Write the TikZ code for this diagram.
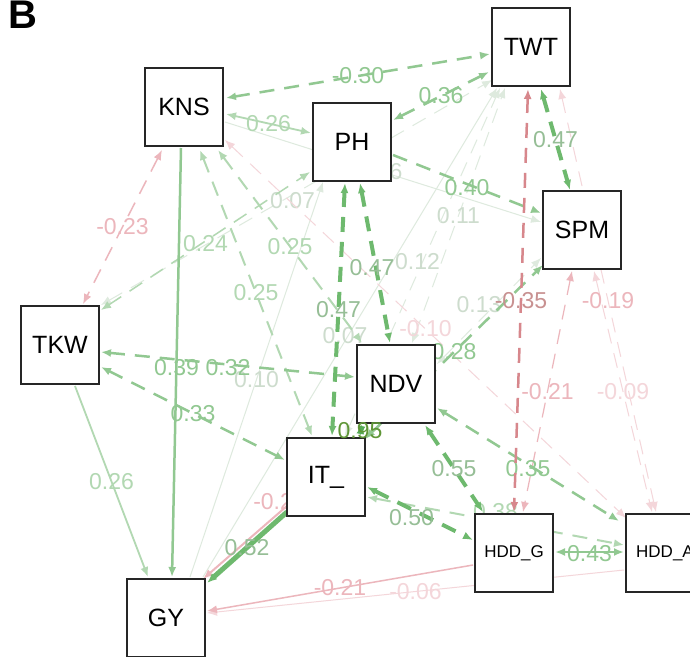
\documentclass[tikz,border=0pt]{standalone}
\usepackage{fontspec}
\setmainfont{Liberation Sans}
\usetikzlibrary{arrows.meta,calc}
\definecolor{gA}{RGB}{85,170,85}
\definecolor{gB}{RGB}{110,185,110}
\definecolor{gC}{RGB}{145,200,145}
\definecolor{gD}{RGB}{178,216,178}
\definecolor{gE}{RGB}{222,234,222}
\definecolor{gL}{RGB}{150,190,150}
\definecolor{gF}{RGB}{205,220,205}
\definecolor{rA}{RGB}{215,135,140}
\definecolor{rB}{RGB}{236,182,188}
\definecolor{rC}{RGB}{244,214,218}
\definecolor{rL}{RGB}{200,145,145}
\definecolor{oL}{RGB}{95,150,55}
\pgfdeclarelayer{edges}
\pgfsetlayers{edges,main}
\begin{document}
\begin{tikzpicture}[x=1pt,y=-1pt,
  >={Latex[length=10pt,width=8pt]},
  box/.style={draw=black!85,line width=1.5pt,fill=white,minimum size=78pt,inner sep=0pt,font=\fontsize{25}{25}\selectfont},
  sbox/.style={box,font=\fontsize{17}{17}\selectfont},
  lab/.style={font=\fontsize{23}{23}\selectfont,inner sep=0pt},
  dsh/.style={dash pattern=on 15pt off 10pt},
  cov/.style={<->},
  reg/.style={->},
  wA/.style={line width=5pt},
  wB/.style={line width=4pt},
  wC/.style={line width=2.5pt},
  wD/.style={line width=1.8pt},
  wE/.style={line width=1pt}]
\clip (0,0) rectangle (690,656);
% boxes
\node[box] (KNS) at (184,107) {KNS};
\node[box] (TWT) at (531,47) {TWT};
\node[box] (PH) at (352,142) {PH};
\node[box] (SPM) at (582,230) {SPM};
\node[box] (TKW) at (60,345) {TKW};
\node[box] (NDV) at (396,384) {NDV};
\node[box] (IT) at (326,477) {IT\_};
\node[sbox] (HDDG) at (514,553) {HDD\_G};
\node[sbox] (HDDA) at (665,553) {HDD\_A};
\node[box] (GY) at (166,618) {GY};
\node[font=\bfseries\fontsize{40}{40}\selectfont,inner sep=0pt] (B) at (23,15) {B};
\begin{pgfonlayer}{edges}
\fill[white] (0,0) rectangle (690,656);
% faint edges
\draw[cov,dsh,wE,gE] ($(TKW)+(41,-40)$) -- node[lab,text=gF,pos=0.49,yshift=-6pt]{0.07} ($(TWT)+(-39,33)$);
\draw[reg,wE,gE] ($(GY)+(24,-41)$) -- node[lab,text=gF]{0.10} ($(PH)+(-29,40)$);
\draw[reg,wE,gE] ($(GY)+(37,-41)$) -- node[lab,text=gF,xshift=-5pt,yshift=-3pt]{0.07} ($(TWT)+(-34,41)$);
\draw[cov,dsh,wE,gE] ($(NDV)+(16,-41)$) -- node[lab,text=gF]{0.11} ($(TWT)+(-26,41)$);
\draw[cov,dsh,wE,gE] ($(IT)+(19,-41)$) -- node[lab,text=gF,xshift=-5pt]{0.12} ($(TWT)+(-31,41)$);
\draw[reg,wE,gE] ($(KNS)+(41,15)$) -- node[lab,text=gF,xshift=-3pt]{0.16} ($(SPM)+(-41,-8)$);
\draw[cov,dsh,wE,rC] ($(KNS)+(41,33)$) -- node[lab,text=rC]{-0.10} ($(HDDA)+(-39,-35)$);
\draw[cov,dsh,wE,gE] ($(NDV)+(41,-20)$) -- node[lab,text=gF,xshift=-10pt,yshift=6pt]{0.13} ($(SPM)+(-41,28)$);
\draw[reg,wE,rC] ($(HDDA)+(-41,17)$) -- node[lab,text=rC]{-0.06} ($(GY)+(41,-5)$);
\draw[cov,dsh,wE,rC] ($(SPM)+(12,41)$) -- node[lab,text=rC]{-0.09} ($(HDDA)+(-13,-41)$);
\draw[cov,dsh,wE,rC] ($(TWT)+(29,42)$) -- node[lab,text=rB]{-0.19} ($(HDDA)+(-9,-41)$);
\draw[cov,dsh,line width=1.2pt,rB] ($(SPM)+(-10,41)$) -- node[lab,text=rB]{-0.21} ($(HDDG)+(9,-41)$);
% light edges
\draw[cov,dsh,line width=1.5pt,rB] ($(KNS)+(-22,43)$) -- node[lab,text=rB]{-0.23} ($(TKW)+(23,-41)$);
\draw[reg,line width=1.5pt,rB] ($(HDDG)+(-41,12)$) -- node[lab,text=rB]{-0.21} ($(GY)+(41,-7)$);
\draw[reg,line width=2pt,rB] ($(NDV)+(-16,41)$) -- node[lab,text=rB,pos=0.5,xshift=-12pt]{-0.22} ($(GY)+(37,-39)$);
\draw[cov,wD,gD] ($(KNS)+(42,7)$) -- node[lab,text=gD]{0.26} ($(PH)+(-41,-9)$);
\draw[cov,dsh,line width=2pt,gD] ($(KNS)+(16,43)$) -- node[lab,text=gD]{0.25} ($(IT)+(-14,-41)$);
\draw[cov,dsh,line width=2pt,gD] ($(KNS)+(34,43)$) -- node[lab,text=gD]{0.25} ($(NDV)+(-34,-41)$);
\draw[cov,dsh,line width=1.5pt,gD] ($(TKW)+(41,-35)$) -- node[lab,text=gD,yshift=-3pt]{0.24} ($(PH)+(-42,30)$);
\draw[reg,wD,gD] ($(TKW)+(15,41)$) -- node[lab,text=gD]{0.26} ($(GY)+(-18,-41)$);
\draw[cov,dsh,line width=2pt,gD] ($(IT)+(41,20)$) -- node[lab,text=gD,yshift=9pt]{0.38} ($(HDDA)+(-41,-8)$);
% medium edges
\draw[cov,dsh,wC,gC] ($(KNS)+(42,-9)$) -- node[lab,text=gC]{-0.30} ($(TWT)+(-41,7)$);
\draw[cov,dsh,wC,gC] ($(PH)+(41,-22)$) -- node[lab,text=gC]{0.36} ($(TWT)+(-42,25)$);
\draw[reg,dsh,wC,gC] ($(PH)+(41,13)$) -- node[lab,text=gC,yshift=-4pt]{0.40} ($(SPM)+(-41,-17)$);
\draw[reg,wC,gC] ($(KNS)+(-3,41)$) -- node[lab,text=gC,yshift=-5pt]{0.39} ($(GY)+(6,-41)$);
\draw[cov,dsh,wC,gC] ($(TKW)+(41,7)$) -- node[lab,text=gC,yshift=-3pt]{0.32} ($(NDV)+(-41,-7)$);
\draw[cov,dsh,wC,gC] ($(TKW)+(41,22)$) -- node[lab,text=gC]{0.33} ($(IT)+(-41,-17)$);
\draw[cov,dsh,wC,gC] ($(IT)+(39,-38)$) -- node[lab,text=gC]{0.28} ($(SPM)+(-39,35)$);
\draw[cov,dsh,wC,gC] ($(NDV)+(41,24)$) -- node[lab,text=gC,yshift=-4pt]{0.35} ($(HDDA)+(-46,-32)$);
\draw[cov,wC,gC] ($(HDDG)+(41,-1)$) -- node[lab,text=gC,yshift=-2pt]{0.43} ($(HDDA)+(-41,-1)$);
\draw[cov,dsh,wC,rA] ($(TWT)+(-3,42)$) -- node[lab,text=rL]{-0.35} ($(HDDG)+(0,-41)$);
% strong edges
\draw[cov,dsh,wB,gB] ($(TWT)+(10,42)$) -- node[lab,text=gL]{0.47} ($(SPM)+(-12,-40)$);
\draw[cov,dsh,wB,gB] ($(PH)+(-7,41)$) -- node[lab,text=gL]{0.47} ($(IT)+(6,-41)$);
\draw[cov,dsh,wB,gB] ($(PH)+(8,41)$) -- node[lab,text=gL,xshift=-3pt,yshift=-5pt]{0.47} ($(NDV)+(-6,-41)$);
\draw[cov,dsh,wB,gB] ($(NDV)+(29,41)$) -- node[lab,text=gL]{0.55} ($(HDDG)+(-31,-41)$);
\draw[cov,dsh,wB,gB] ($(IT)+(41,10)$) -- node[lab,text=gL,pos=0.42,yshift=-8pt]{0.50} ($(HDDG)+(-41,-13)$);
\draw[reg,wA,gB] ($(IT)+(-39,35)$) -- node[lab,text=gL]{0.52} ($(GY)+(41,-35)$);
\draw[cov,wA,gA] ($(NDV)+(-34,40)$) -- ($(IT)+(34,-41)$);
\end{pgfonlayer}
\node[lab,text=oL] (l095) at (360,431) {0.95};
\end{tikzpicture}
\end{document}
